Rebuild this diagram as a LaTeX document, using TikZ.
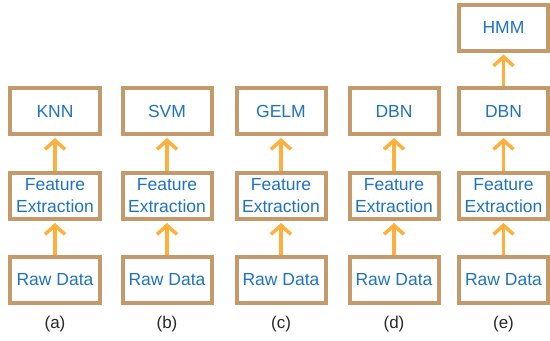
\documentclass[tikz,border=0pt]{standalone}
\usepackage{fontspec}
\setmainfont{Liberation Sans}
\usetikzlibrary{arrows.meta}
\definecolor{boxborder}{RGB}{196,154,106}
\definecolor{arrowc}{RGB}{255,176,60}
\definecolor{txtblue}{RGB}{30,115,190}
\definecolor{lblgray}{RGB}{40,40,40}
\tikzset{
  mbox/.style={draw=boxborder, line width=4bp, fill=white, minimum width=89bp, minimum height=46bp,
    inner sep=0pt, align=center, text=txtblue, font=\fontsize{17.5bp}{22bp}\selectfont},
  uparrow/.style={draw=arrowc, line width=3.5bp, -{Straight Barb[length=9bp,width=20bp,line width=3.5bp]}, shorten >=2bp},
  sublabel/.style={text=lblgray, font=\fontsize{17bp}{20bp}\selectfont}
}
\begin{document}
\begin{tikzpicture}[x=1bp,y=-1bp]
\useasboundingbox (0,0) rectangle (550,340);
% column positions
\foreach \c/\x/\top/\lab in {a/55/KNN/(a), b/167/SVM/(b), c/281/GELM/(c), d/394/DBN/(d), e/503.5/DBN/(e)}{
  \node[mbox] (raw\c) at (\x,280) {Raw Data};
  \node[mbox] (fe\c) at (\x,196) {Feature\\Extraction};
  \node[mbox] (top\c) at (\x,111) {\top};
  \node[sublabel] (lab\c) at (\x,324) {\lab};
  \draw[uparrow] (raw\c.north) -- (fe\c.south);
  \draw[uparrow] (fe\c.north) -- (top\c.south);
}
\node[mbox] (hmm) at (503.5,27.5) {HMM};
\draw[uparrow] (tope.north) -- (hmm.south);
\end{tikzpicture}
\end{document}
